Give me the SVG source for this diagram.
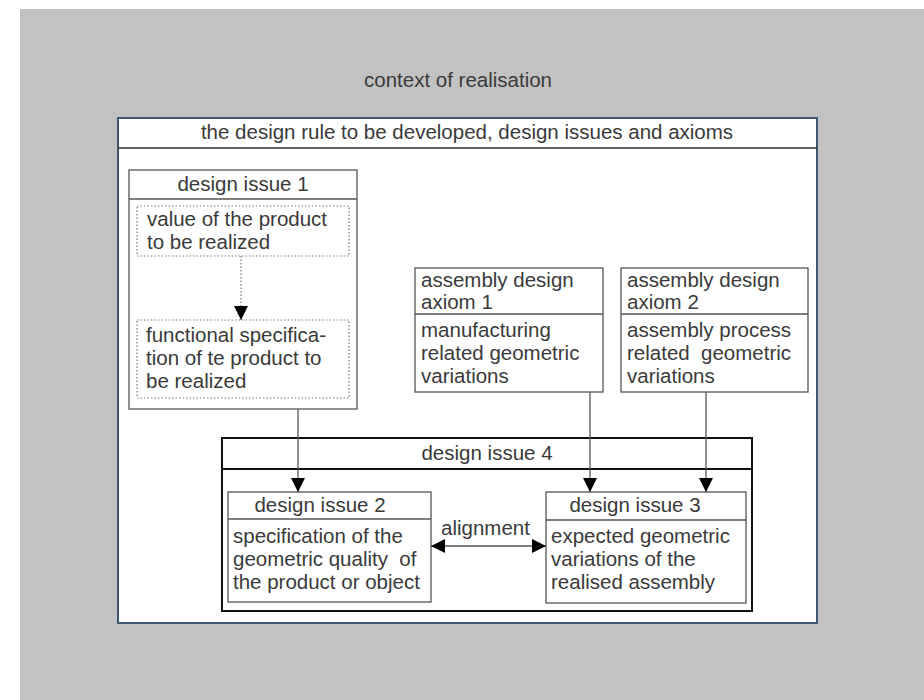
<svg xmlns="http://www.w3.org/2000/svg" width="924" height="700" viewBox="0 0 924 700">
  <style>
    text { font-family: "Liberation Sans", Arial, sans-serif; font-size: 20.5px; fill: #3a3a3a; }
    .c { text-anchor: middle; }
    .box { fill: #fff; stroke: #555; stroke-width: 1.3; }
    .sep { stroke: #555; stroke-width: 1.3; }
    .dot { fill: none; stroke: #777; stroke-width: 1.2; stroke-dasharray: 1.5 2; }
    .conn { stroke: #555; stroke-width: 1.3; fill: none; }
  </style>
  <defs>
    <marker id="ah" markerUnits="userSpaceOnUse" markerWidth="14" markerHeight="14" viewBox="0 0 14 14" refX="14" refY="7" orient="auto-start-reverse">
      <path d="M0,0 L14,7 L0,14 Z" fill="#000"/>
    </marker>
  </defs>

  <!-- context area -->
  <rect x="20" y="9" width="904" height="691" fill="#c1c2c1"/>
  <text class="c" x="458" y="87">context of realisation</text>

  <!-- design rule frame -->
  <g id="design-rule">
    <rect x="118" y="118" width="699" height="505" fill="#fff" stroke="#3e5872" stroke-width="2"/>
    <line x1="118" y1="148" x2="817" y2="148" stroke="#333" stroke-width="1.3"/>
    <text class="c" x="467" y="139">the design rule to be developed, design issues and axioms</text>
  </g>

  <!-- design issue 1 -->
  <g id="issue1">
    <rect class="box" x="129" y="170" width="228" height="239"/>
    <line class="sep" x1="129" y1="199" x2="357" y2="199"/>
    <text class="c" x="243" y="191">design issue 1</text>
    <rect class="dot" x="137" y="206" width="212" height="50"/>
    <text x="147" y="226">value of the product</text>
    <text x="147" y="249">to be realized</text>
    <rect class="dot" x="137" y="320" width="212" height="78"/>
    <text x="146" y="342">functional specifica-</text>
    <text x="146" y="365">tion of te product to</text>
    <text x="146" y="388">be realized</text>
  </g>

  <!-- assembly design axiom 1 -->
  <g id="axiom1">
    <rect class="box" x="415" y="268" width="188" height="124"/>
    <line class="sep" x1="415" y1="314" x2="603" y2="314"/>
    <text x="421" y="287">assembly design</text>
    <text x="421" y="309">axiom 1</text>
    <text x="421" y="337">manufacturing</text>
    <text x="421" y="360">related geometric</text>
    <text x="421" y="383">variations</text>
  </g>

  <!-- assembly design axiom 2 -->
  <g id="axiom2">
    <rect class="box" x="621" y="268" width="187" height="124"/>
    <line class="sep" x1="621" y1="314" x2="808" y2="314"/>
    <text x="627" y="287">assembly design</text>
    <text x="627" y="309">axiom 2</text>
    <text x="627" y="337">assembly process</text>
    <text x="627" y="360" xml:space="preserve">related  geometric</text>
    <text x="627" y="383">variations</text>
  </g>

  <!-- design issue 4 -->
  <g id="issue4">
    <rect x="222" y="438" width="530" height="173" fill="#fff" stroke="#111" stroke-width="2"/>
    <line x1="222" y1="469" x2="752" y2="469" stroke="#111" stroke-width="2"/>
    <text class="c" x="487" y="460">design issue 4</text>
  </g>

  <!-- design issue 2 -->
  <g id="issue2">
    <rect class="box" x="228" y="492" width="203" height="110"/>
    <line class="sep" x1="228" y1="519" x2="431" y2="519"/>
    <text class="c" x="320" y="512">design issue 2</text>
    <text x="233" y="543">specification of the</text>
    <text x="233" y="566" xml:space="preserve">geometric quality  of</text>
    <text x="233" y="589">the product or object</text>
  </g>

  <!-- design issue 3 -->
  <g id="issue3">
    <rect class="box" x="546" y="492" width="200" height="111"/>
    <line class="sep" x1="546" y1="520" x2="746" y2="520"/>
    <text class="c" x="635" y="512">design issue 3</text>
    <text x="551" y="543">expected geometric</text>
    <text x="551" y="566">variations of the</text>
    <text x="551" y="589">realised assembly</text>
  </g>

  <!-- connectors -->
  <g id="connectors">
    <line class="dot" x1="241" y1="256" x2="241" y2="320" stroke="#111" marker-end="url(#ah)"/>
    <line class="conn" x1="298" y1="409" x2="298" y2="492" marker-end="url(#ah)"/>
    <line class="conn" x1="590" y1="392" x2="590" y2="492" marker-end="url(#ah)"/>
    <line class="conn" x1="706" y1="392" x2="706" y2="492" marker-end="url(#ah)"/>
    <line class="conn" x1="431" y1="546" x2="546" y2="546" stroke="#111" marker-start="url(#ah)" marker-end="url(#ah)"/>
    <text x="441" y="535">alignment</text>
  </g>
</svg>
